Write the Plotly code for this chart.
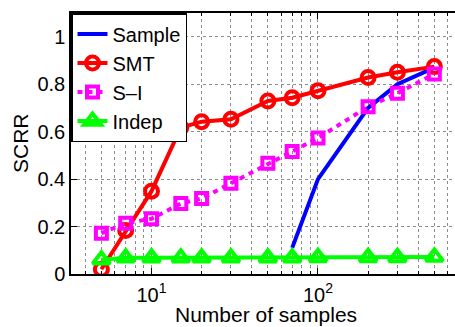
import plotly.graph_objects as go

samples = [5, 7, 10, 15, 20, 30, 50, 70, 100, 200, 300, 500]
sample_x = [70, 100, 200, 300, 500]
sample_y = [0.11, 0.40, 0.70, 0.80, 0.87]
smt_y = [0.02, 0.183, 0.349, 0.617, 0.642, 0.652, 0.729, 0.743, 0.772, 0.828, 0.85, 0.874]
si_y = [0.172, 0.214, 0.233, 0.297, 0.318, 0.382, 0.467, 0.516, 0.573, 0.705, 0.762, 0.843]
indep_y = [0.06, 0.068, 0.068, 0.068, 0.068, 0.068, 0.068, 0.068, 0.07, 0.07, 0.07, 0.072]

y_ticks = [0, 0.2, 0.4, 0.6, 0.8, 1]
y_labels = ["0", "0.2", "0.4", "0.6", "0.8", "1"]
x_ticks = [10, 100]
x_labels = ["10<sup>1</sup>", "10<sup>2</sup>"]
x_minor = [4, 5, 6, 7, 8, 9, 20, 30, 40, 50, 60, 70, 80, 90, 200, 300, 400, 500, 600]
x_title = "Number of samples"
y_title = "SCRR"

fig = go.Figure()
fig.add_trace(go.Scatter(x=sample_x, y=sample_y, name="Sample", mode="lines",
                         line=dict(color="#0000ff", width=4)))
fig.add_trace(go.Scatter(x=samples, y=smt_y, name="SMT", mode="lines+markers",
                         line=dict(color="#ff0000", width=4),
                         marker=dict(symbol="circle-open", size=13, color="#ff0000",
                                     line=dict(width=4, color="#ff0000"))))
fig.add_trace(go.Scatter(x=samples, y=si_y, name="S\u2013I", mode="lines+markers",
                         line=dict(color="#ff00ff", width=4, dash="5px,5px"),
                         marker=dict(symbol="square-open", size=11, color="#ff00ff",
                                     line=dict(width=4, color="#ff00ff"))))
fig.add_trace(go.Scatter(x=samples, y=indep_y, name="Indep", mode="lines+markers",
                         line=dict(color="#00ff00", width=4),
                         marker=dict(symbol="triangle-up-open", size=15, color="#00ff00",
                                     line=dict(width=4, color="#00ff00"))))

font = dict(family="Liberation Sans, Arial, sans-serif", size=20, color="black")
title_font = dict(family="Liberation Sans, Arial, sans-serif", size=21, color="black")
fig.update_layout(
    width=455, height=327,
    margin=dict(l=71, r=0, t=13, b=53, autoexpand=False),
    paper_bgcolor="white", plot_bgcolor="white",
    font=font,
    showlegend=True,
    legend=dict(x=0, y=1, xanchor="left", yanchor="top", bgcolor="white",
                bordercolor="black", borderwidth=1.5, font=font,
                tracegroupgap=0, itemwidth=30),
    xaxis=dict(type="log", range=[0.5165, 2.823], tickvals=x_ticks, ticktext=x_labels,
               automargin=False, ticklabelstandoff=2,
               ticks="inside", ticklen=6, tickcolor="black", showline=True,
               linecolor="black", linewidth=1.5, mirror="ticks",
               showgrid=True, gridcolor="#8c8c8c", griddash="dot", gridwidth=1,
               zeroline=False,
               minor=dict(tickvals=x_minor, ticks="inside", ticklen=3, tickcolor="black",
                          showgrid=True, gridcolor="#8c8c8c", griddash="dot", gridwidth=1)),
    yaxis=dict(range=[0, 1.1], tickvals=y_ticks, ticktext=y_labels,
               automargin=False,
               ticks="inside", ticklen=6, tickcolor="black", showline=True,
               linecolor="black", linewidth=1.5, mirror=False,
               showgrid=True, gridcolor="#8c8c8c", griddash="dot", gridwidth=1,
               zeroline=False),
    annotations=[
        dict(text=x_title, xref="paper", yref="paper", x=0.508, y=0,
             xanchor="center", yanchor="top", yshift=-27, showarrow=False, font=title_font),
        dict(text=y_title, xref="paper", yref="paper", x=-0.1315, y=0.5,
             xanchor="center", yanchor="middle", textangle=-90, showarrow=False, font=title_font),
    ],
)
fig.write_html("out.html", config={"displayModeBar": False},
               post_script="document.body.style.margin='0px';")
